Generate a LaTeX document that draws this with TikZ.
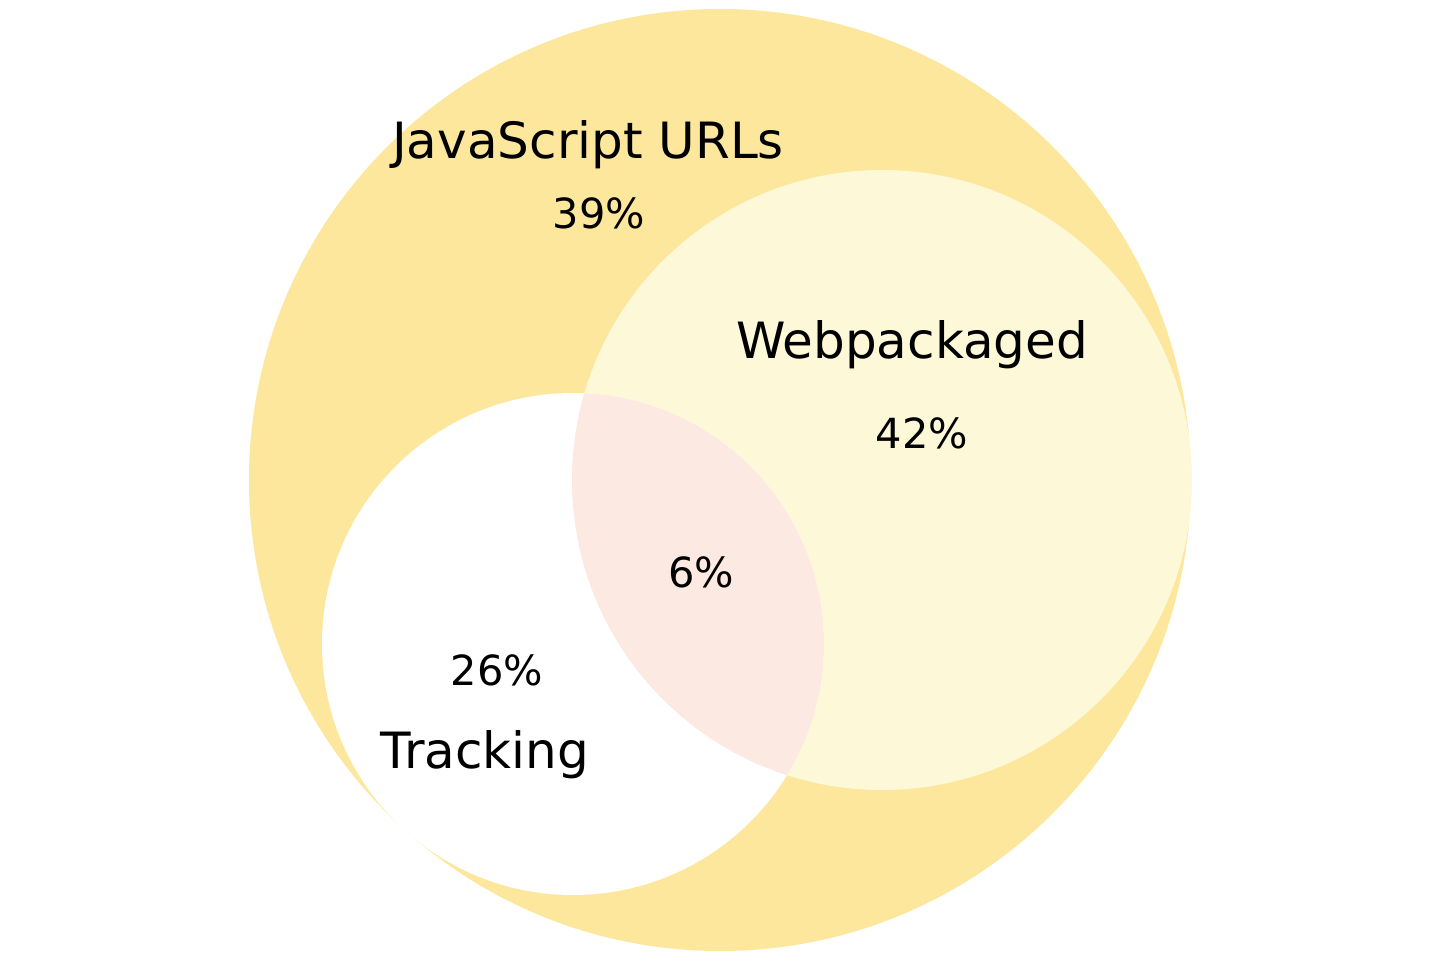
\documentclass[tikz,border=0pt]{standalone}
\usepackage{fontspec}
\setmainfont{DejaVu Sans}
\definecolor{jsfill}{RGB}{253,231,157}
\definecolor{wpfill}{RGB}{252,248,216}
\definecolor{bothfill}{RGB}{252,233,225}
\tikzset{
  setlabel/.style={anchor=base, inner sep=0pt, font=\fontsize{50}{56}\selectfont},
  numlabel/.style={anchor=base, inner sep=0pt, font=\fontsize{41.5}{47}\selectfont}
}
\begin{document}
\begin{tikzpicture}[x=1pt,y=-1pt]
\useasboundingbox[fill=white] (0,0) rectangle (1441,961);
% JavaScript URLs
\fill[jsfill] (720,480) circle[radius=471];
% Webpackaged
\fill[wpfill] (882,480) circle[radius=310];
% Tracking
\fill[white] (573,644) circle[radius=251];
% intersection Webpackaged & Tracking
\begin{scope}
  \clip (882,480) circle[radius=310];
  \fill[bothfill] (573,644) circle[radius=251];
\end{scope}
\node[setlabel] (js) at (588,158) {JavaScript URLs};
\node[numlabel] (jsn) at (599,228) {39\%};
\node[setlabel] (wp) at (912,358) {Webpackaged};
\node[numlabel] (wpn) at (922,448) {42\%};
\node[numlabel] (both) at (701,587) {6\%};
\node[numlabel] (trn) at (497,685) {26\%};
\node[setlabel] (tr) at (485,768) {Tracking};
\end{tikzpicture}
\end{document}
